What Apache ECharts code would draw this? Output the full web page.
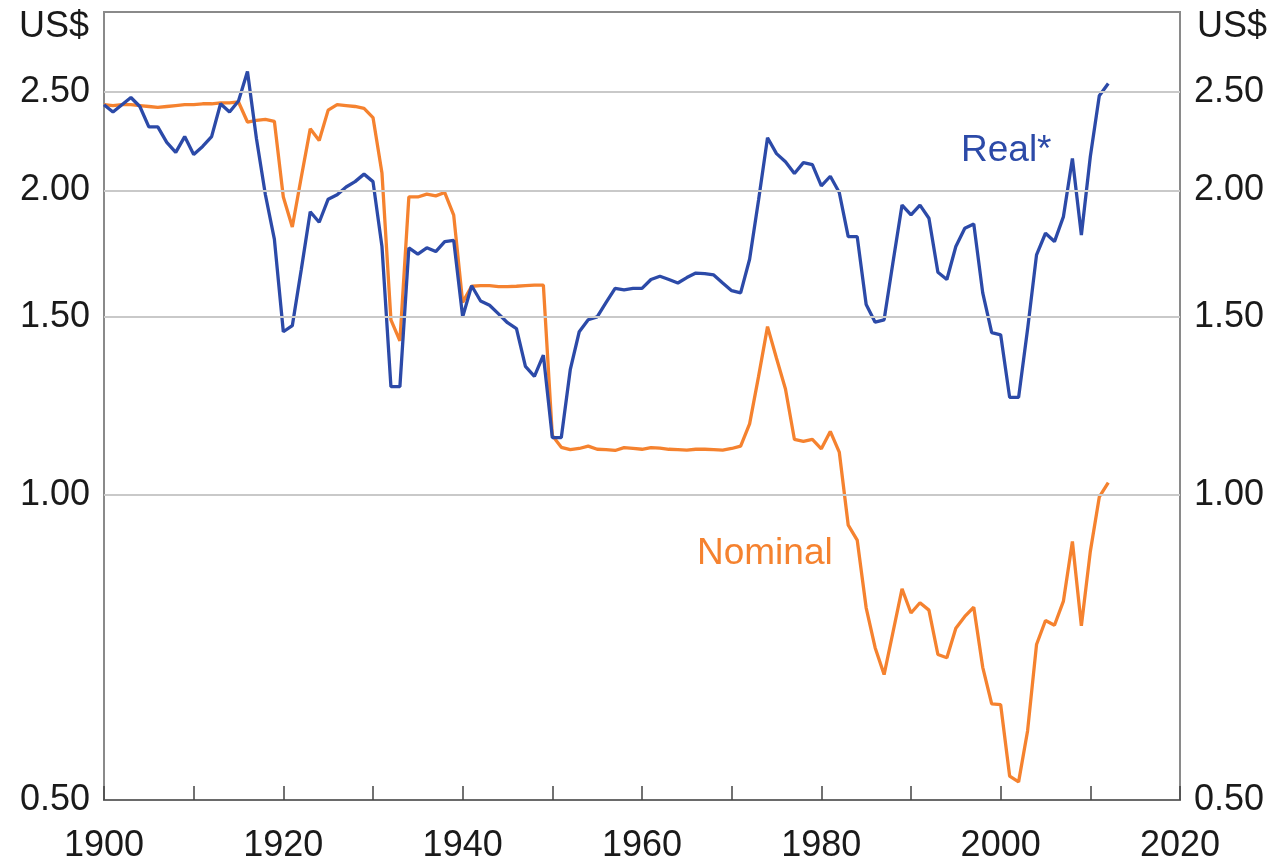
<!DOCTYPE html>
<html><head><meta charset="utf-8">
<script src="https://cdn.jsdelivr.net/npm/echarts@6/dist/echarts.min.js"></script>
<style>html,body{margin:0;padding:0;background:#fff}#c{width:1278px;height:864px}</style>
</head><body><div id="c"></div>
<script>
const years = [1900,1901,1902,1903,1904,1905,1906,1907,1908,1909,1910,1911,1912,1913,1914,1915,1916,1917,1918,1919,
1920,1921,1922,1923,1924,1925,1926,1927,1928,1929,1930,1931,1932,1933,1934,1935,1936,1937,1938,1939,
1940,1941,1942,1943,1944,1945,1946,1947,1948,1949,1950,1951,1952,1953,1954,1955,1956,1957,1958,1959,
1960,1961,1962,1963,1964,1965,1966,1967,1968,1969,1970,1971,1972,1973,1974,1975,1976,1977,1978,1979,
1980,1981,1982,1983,1984,1985,1986,1987,1988,1989,1990,1991,1992,1993,1994,1995,1996,1997,1998,1999,
2000,2001,2002,2003,2004,2005,2006,2007,2008,2009,2010,2011,2012];

const realValues = [2.43,2.39,2.43,2.47,2.42,2.31,2.31,2.23,2.18,2.26,2.17,2.21,2.26,2.435,2.39,2.45,2.62,2.25,1.98,1.79,
1.45,1.47,1.67,1.905,1.86,1.96,1.98,2.015,2.04,2.075,2.04,1.76,1.28,1.28,1.755,1.73,1.755,1.74,1.78,1.785,
1.50,1.61,1.555,1.54,1.51,1.48,1.46,1.34,1.31,1.375,1.14,1.14,1.33,1.45,1.49,1.50,1.55,1.60,1.595,1.60,
1.60,1.633,1.645,1.633,1.62,1.64,1.657,1.655,1.65,1.62,1.592,1.584,1.71,1.956,2.254,2.174,2.134,2.078,2.13,2.12,
2.02,2.065,1.99,1.80,1.80,1.543,1.482,1.49,1.70,1.934,1.891,1.934,1.877,1.66,1.633,1.76,1.835,1.853,1.584,1.447,
1.44,1.249,1.249,1.458,1.727,1.814,1.78,1.884,2.15,1.807,2.16,2.48,2.55];

const nominalValues = [2.43,2.425,2.43,2.43,2.425,2.42,2.415,2.42,2.425,2.43,2.43,2.435,2.435,2.44,2.44,2.445,2.336,2.345,2.35,2.34,
1.97,1.84,2.06,2.30,2.24,2.40,2.43,2.425,2.42,2.41,2.36,2.08,1.49,1.42,1.97,1.97,1.983,1.975,1.99,1.89,
1.55,1.608,1.61,1.61,1.607,1.607,1.608,1.61,1.612,1.612,1.145,1.115,1.109,1.112,1.118,1.11,1.109,1.107,1.114,1.112,
1.11,1.114,1.113,1.11,1.109,1.108,1.11,1.11,1.109,1.108,1.112,1.118,1.176,1.31,1.467,1.365,1.273,1.135,1.13,1.135,
1.111,1.156,1.103,0.934,0.903,0.774,0.707,0.665,0.733,0.808,0.765,0.783,0.77,0.696,0.691,0.739,0.759,0.775,0.676,0.622,
0.621,0.528,0.521,0.585,0.712,0.752,0.744,0.786,0.90,0.743,0.88,0.996,1.029];

const yTickValues = [0.5, 1.0, 1.5, 2.0, 2.5];
const yGridValues = [1.0, 1.5, 2.0, 2.5];
const xMin = 1900, xMax = 2020, xTickStep = 10, xLabelStep = 20;
const yMin = 0.5, yMax = 3.0;
const unitLabel = 'US$';
const realName = 'Real*';
const nominalName = 'Nominal';

const BLUE = '#2c4aa8';
const ORANGE = '#f5822f';
const FONT = 'Arial, "Liberation Sans", sans-serif';
const FS = 36;

const chart = echarts.init(document.getElementById('c'), null, {renderer: 'canvas'});

function yAxisDef(pos) {
  return {
    type: 'log', logBase: 10, position: pos, min: yMin, max: yMax,
    axisLine: {show: false}, axisTick: {show: false}, splitLine: {show: false},
    axisLabel: {
      customValues: yTickValues, margin: 14, color: '#1a1a1a',
      fontFamily: FONT, fontSize: FS,
      formatter: v => Number(v).toFixed(2)
    }
  };
}

chart.setOption({
  animation: false,
  backgroundColor: '#ffffff',
  grid: {left: 104, right: 98, top: 12, bottom: 60, show: true,
         borderColor: '#8a8a8a', borderWidth: 2, backgroundColor: 'transparent'},
  xAxis: {
    type: 'value', min: xMin, max: xMax, interval: xTickStep,
    axisLine: {show: true, onZero: false, lineStyle: {color: '#6a6a6a', width: 2}},
    axisTick: {show: true, inside: true, length: 14, lineStyle: {color: '#444', width: 1.5}},
    splitLine: {show: false},
    axisLabel: {
      margin: 28, color: '#1a1a1a', fontFamily: FONT, fontSize: FS,
      formatter: v => ((v - xMin) % xLabelStep === 0 ? String(v) : '')
    }
  },
  yAxis: [yAxisDef('left'), yAxisDef('right')],
  series: [
    {
      type: 'line', name: 'grid', data: [], yAxisIndex: 0, silent: true, z: 1,
      markLine: {
        silent: true, symbol: 'none', label: {show: false},
        lineStyle: {color: '#c9c9c9', width: 2, type: 'solid'},
        data: yGridValues.map(v => ({yAxis: v}))
      }
    },
    {
      type: 'line', name: nominalName, yAxisIndex: 0, z: 3,
      data: years.map((y, i) => [y, nominalValues[i]]),
      showSymbol: false, lineStyle: {color: ORANGE, width: 3.3}, itemStyle: {color: ORANGE}
    },
    {
      type: 'line', name: realName, yAxisIndex: 0, z: 4,
      data: years.map((y, i) => [y, realValues[i]]),
      showSymbol: false, lineStyle: {color: BLUE, width: 3.3}, itemStyle: {color: BLUE}
    }
  ],
  graphic: [
    {type: 'text', left: 19, top: 9, style: {text: unitLabel, fill: '#1a1a1a', font: FS + 'px ' + FONT}},
    {type: 'text', left: 1197, top: 9, style: {text: unitLabel, fill: '#1a1a1a', font: FS + 'px ' + FONT}},
    {type: 'text', left: 961, top: 132, style: {text: realName, fill: BLUE, font: '37px ' + FONT}},
    {type: 'text', left: 697, top: 535, style: {text: nominalName, fill: ORANGE, font: '37px ' + FONT}}
  ]
});
</script>
</body></html>
